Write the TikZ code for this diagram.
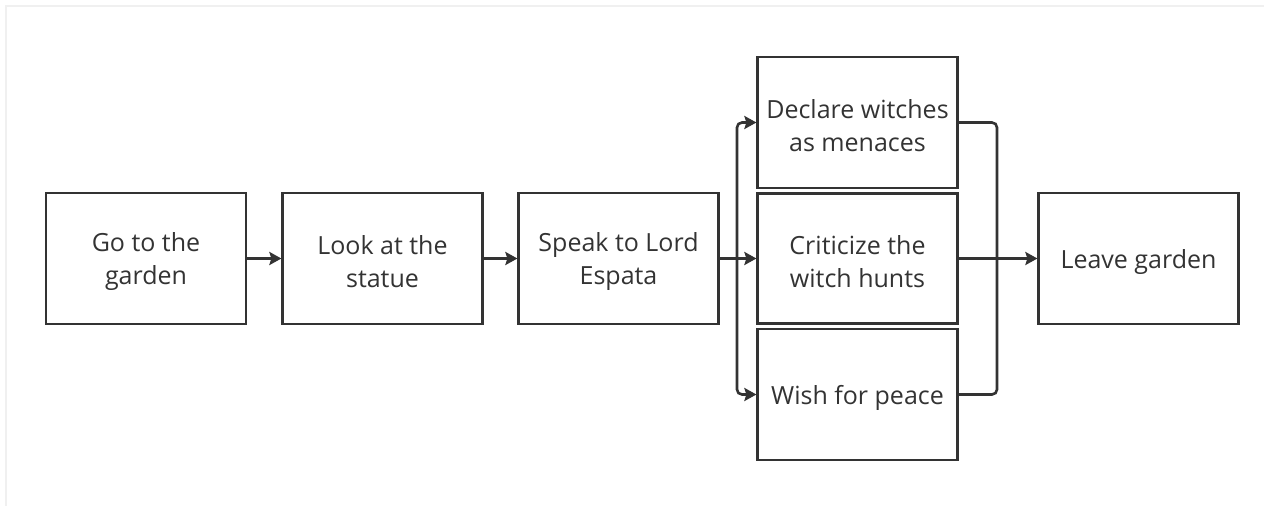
\documentclass[tikz,border=0pt]{standalone}
\usepackage{fontspec}
\setmainfont{Open Sans}
\usetikzlibrary{arrows.meta}
\definecolor{ink}{HTML}{333333}
\definecolor{frameline}{HTML}{F0F0F0}
\tikzset{
  stepbox/.style={draw=ink, line width=2.2pt, minimum width=200pt, minimum height=131pt,
    inner sep=0pt},
  steptext/.style={text=ink, align=center, inner sep=0pt, yshift=-3.5pt,
    font=\fontsize{25}{33}\selectfont},
  link/.style={draw=ink, line width=2.6pt},
  arr/.style={link, -{Stealth[length=12pt,width=13pt,inset=2pt]}}
}
\begin{document}
\begin{tikzpicture}[x=1pt,y=-1pt]
  \useasboundingbox (0,0) rectangle (1264,506);
  % faint page frame
  \draw[frameline, line width=2pt] (6,506) -- (6,6) -- (1264,6);

  % main sequence
  \node[stepbox, label={[steptext]center:Go to the\\garden}] (garden) at (146,258.5) {};
  \node[stepbox, label={[steptext]center:Look at the\\statue}] (statue) at (382.5,258.5) {};
  \node[stepbox, label={[steptext]center:Speak to Lord\\Espata}] (espata) at (618.5,258.5) {};

  % three dialogue choices
  \node[stepbox, label={[steptext]center:Declare witches\\as menaces}] (declare) at (857.5,122.5) {};
  \node[stepbox, minimum height=130pt, label={[steptext]center:Criticize the\\witch hunts}] (criticize) at (857.5,258.5) {};
  \node[stepbox, label={[steptext]center:Wish for peace}] (peace) at (857.5,394.5) {};

  \node[stepbox, label={[steptext]center:Leave garden}] (leave) at (1138.5,258.5) {};

  % branch and merge points
  \coordinate (split) at (737,258.5);
  \coordinate (join) at (997,258.5);

  \draw[arr] (garden) -- (statue);
  \draw[arr] (statue) -- (espata);
  \draw[arr] (espata) -- (criticize);
  \draw[arr, rounded corners=5pt] (split) |- (declare.west);
  \draw[arr, rounded corners=5pt] (split) |- (peace.west);

  \draw[link, rounded corners=5pt] (declare.east) -| (join);
  \draw[link, rounded corners=5pt] (peace.east) -| (join);
  \draw[arr] (criticize) -- (leave);
\end{tikzpicture}
\end{document}
